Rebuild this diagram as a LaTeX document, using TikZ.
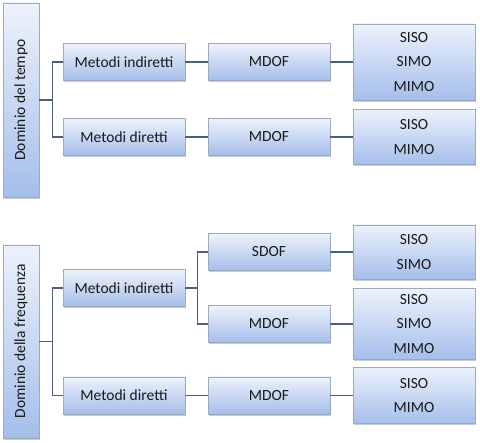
\documentclass[tikz,border=0pt]{standalone}
\usepackage{fontspec}
\setmainfont{Carlito}
\usetikzlibrary{shadows}
\definecolor{boxtop}{HTML}{EDF2FC}
\definecolor{boxbot}{HTML}{A4BEEB}
\definecolor{boxline}{HTML}{9EA9BC}
\definecolor{linkcol}{HTML}{4D5F7D}
\definecolor{txtcol}{HTML}{1A1A1A}
\tikzset{
  box/.style={draw=boxline, line width=0.7pt, top color=boxtop, bottom color=boxbot,
    text=txtcol, inner sep=0pt, align=center,
    font=\fontsize{15.5}{24.5}\selectfont,
    drop shadow={shadow xshift=0.6pt, shadow yshift=-1.6pt, opacity=0.35, fill=black!60}},
  rootbox/.style={box, minimum width=36pt},
  midbox/.style={box, minimum width=122pt, minimum height=37pt},
  leafbox/.style={box, minimum width=122pt},
  link/.style={draw=linkcol, line width=1.3pt}
}
\begin{document}
\begin{tikzpicture}[x=1pt,y=-1pt]
\useasboundingbox (0,0) rectangle (480,443);
% time domain
\node[rootbox, minimum height=194pt] (r1) at (21,100) {\rotatebox{90}{Dominio del tempo}};
\node[midbox] (mi1) at (124,62) {Metodi indiretti};
\node[midbox] (md1) at (124,137) {Metodi diretti};
\node[midbox] (mdof1) at (269,62) {MDOF};
\node[midbox] (mdof2) at (269,137) {MDOF};
\node[leafbox, minimum height=76pt] (l1) at (414,62) {SISO\\SIMO\\MIMO};
\node[leafbox, minimum height=55pt] (l2) at (414,137) {SISO\\MIMO};
% frequency domain
\node[rootbox, minimum height=193pt] (r2) at (21,341.5) {\rotatebox{90}{Dominio della frequenza}};
\node[midbox] (mi2) at (124,288) {Metodi indiretti};
\node[midbox] (md2) at (124,395.5) {Metodi diretti};
\node[midbox] (sdof) at (269,252) {SDOF};
\node[midbox] (mdof3) at (269,324) {MDOF};
\node[midbox] (mdof4) at (269,395.5) {MDOF};
\node[leafbox, minimum height=54pt] (l3) at (414,252) {SISO\\SIMO};
\node[leafbox, minimum height=71pt] (l4) at (414,324) {SISO\\SIMO\\MIMO};
\node[leafbox, minimum height=56pt] (l5) at (414,395.5) {SISO\\MIMO};
% connectors
\draw[link] (r1.east) -- ++(13,0) |- (mi1.west);
\draw[link] (r1.east) -- ++(13,0) |- (md1.west);
\draw[link] (mi1.east) -- (mdof1.west);
\draw[link] (md1.east) -- (mdof2.west);
\draw[link] (mdof1.east) -- (l1.west);
\draw[link] (mdof2.east) -- (l2.west);
\draw[link] (r2.east) -- ++(13,0) |- (mi2.west);
\draw[link] (r2.east) -- ++(13,0) |- (md2.west);
\draw[link] (mi2.east) -- ++(12,0) |- (sdof.west);
\draw[link] (mi2.east) -- ++(12,0) |- (mdof3.west);
\draw[link] (md2.east) -- (mdof4.west);
\draw[link] (sdof.east) -- (l3.west);
\draw[link] (mdof3.east) -- (l4.west);
\draw[link] (mdof4.east) -- (l5.west);
\end{tikzpicture}
\end{document}
